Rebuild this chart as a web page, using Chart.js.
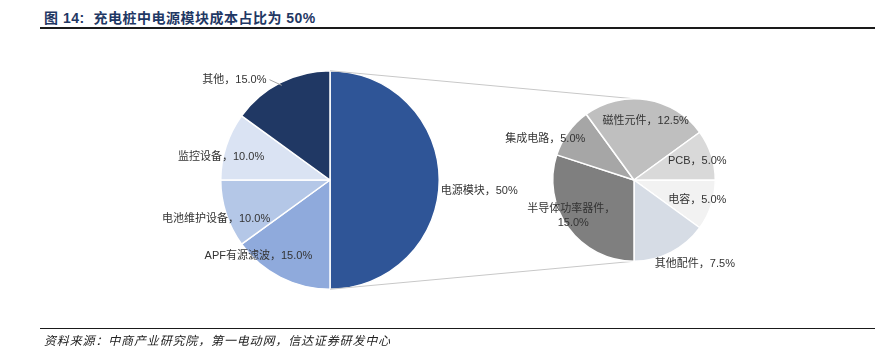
<!DOCTYPE html>
<html>
<head>
<meta charset="utf-8">
<script src="https://cdn.jsdelivr.net/npm/chart.js@4/dist/chart.umd.min.js"></script>
<style>
  body { margin: 0; background: #fff; }
  #wrap { position: relative; width: 875px; height: 353px; overflow: hidden; }
  #wrap canvas { position: absolute; left: 0; top: 0; }
  #title { position: absolute; left: 44px; top: 7px; font: bold 14px "Liberation Sans", "Noto Sans CJK SC", sans-serif; letter-spacing: 0.5px; color: #1f3864; white-space: nowrap; }
  #topline { position: absolute; left: 40px; right: 0; top: 27px; height: 2px; background: #1a1a1a; }
  #botline { position: absolute; left: 40px; right: 0; top: 328px; height: 1px; background: #1a1a1a; }
  #source { position: absolute; left: 44px; top: 331px; font: italic 12px "Noto Sans CJK SC", sans-serif; letter-spacing: 0.85px; color: #222; white-space: nowrap; }
</style>
</head>
<body>
<div id="wrap">
  <div id="title">图 14:&nbsp; 充电桩中电源模块成本占比为 50%</div>
  <div id="topline"></div>
  <canvas id="leftPie" width="875" height="353"></canvas>
  <canvas id="rightPie" width="875" height="353"></canvas>
  <div id="botline"></div>
  <div id="source">资料来源：中商产业研究院，第一电动网，信达证券研发中心</div>
</div>
<script>
// 充电桩成本构成
const mainNames = ['电源模块', 'APF有源滤波', '电池维护设备', '监控设备', '其他']
const mainValues = [50, 15, 10, 10, 15]
const mainValueLabels = ['50%', '15.0%', '10.0%', '10.0%', '15.0%']
const mainColors = ['#2f5597', '#8faadc', '#b4c7e7', '#dae3f3', '#203864']

// 电源模块成本构成
const subNames = ['电容', '其他配件', '半导体功率器件', '集成电路', '磁性元件', 'PCB']
const subValues = [5, 7.5, 15, 5, 12.5, 5]
const subValueLabels = ['5.0%', '7.5%', '15.0%', '5.0%', '12.5%', '5.0%']
const subColors = ['#f2f2f2', '#d6dce5', '#7f7f7f', '#a6a6a6', '#bfbfbf', '#d9d9d9']

// label offsets from the slice's outer edge midpoint
const mainLabelOffsets = [[40, 11], [-22, -21], [-10, 5], [-5, 11], [-46, -3]]
const subLabelOffsets = [[-14, -5], [24, 12], [3, -12], [-23, 7], [-1, 21], [-14, 6]]

const labelFont = '11px "Liberation Sans", "Noto Sans CJK SC", sans-serif'

const edgePoint = (arc, r) => {
  const mid = (arc.startAngle + arc.endAngle) / 2
  return { x: arc.x + Math.cos(mid) * r, y: arc.y + Math.sin(mid) * r }
}

const sliceLabels = (names, valueLabels, offsets, leaderIndex) => ({
  id: 'sliceLabels',
  afterDatasetsDraw(chart) {
    const ctx = chart.ctx
    const arcs = chart.getDatasetMeta(0).data
    ctx.save()
    ctx.font = labelFont
    ctx.fillStyle = '#333'
    ctx.textAlign = 'center'
    ctx.textBaseline = 'middle'
    arcs.forEach((arc, i) => {
      const p = edgePoint(arc, arc.outerRadius)
      const x = p.x + offsets[i][0]
      const y = p.y + offsets[i][1]
      if (names[i] == '半导体功率器件') {
        ctx.fillText(names[i] + '，', x, y - 7)
        ctx.fillText(valueLabels[i], x + 2, y + 7)
      } else {
        const text = names[i] + '，' + valueLabels[i]
        ctx.fillText(text, x, y)
        if (i == leaderIndex) {
          const w = ctx.measureText(text).width
          const q = edgePoint(arc, arc.outerRadius - 3)
          ctx.strokeStyle = '#a6a6a6'
          ctx.lineWidth = 1
          ctx.beginPath()
          ctx.moveTo(x + w / 2 + 3, y)
          ctx.lineTo(q.x, q.y)
          ctx.stroke()
        }
      }
    })
    ctx.restore()
  }
})

const pieOptions = (padding) => ({
  responsive: false,
  animation: false,
  layout: { padding },
  plugins: { legend: { display: false }, tooltip: { enabled: false } }
})

const leftChart = new Chart('leftPie', {
  type: 'pie',
  data: {
    labels: mainNames,
    datasets: [{
      data: mainValues,
      backgroundColor: mainColors,
      borderColor: '#fff',
      borderWidth: 1.5
    }]
  },
  options: pieOptions({ left: 220, right: 435, top: 70, bottom: 63 }),
  plugins: [sliceLabels(mainNames, mainValueLabels, mainLabelOffsets, 4)]
})

// lines joining the 电源模块 slice to the breakdown pie
const connectors = {
  id: 'connectors',
  beforeDatasetsDraw(chart) {
    const a = leftChart.getDatasetMeta(0).data[0]
    const b = chart.getDatasetMeta(0).data[0]
    const ctx = chart.ctx
    ctx.save()
    ctx.strokeStyle = '#c8c8c8'
    ctx.lineWidth = 1
    ctx.beginPath()
    ctx.moveTo(a.x, a.y - a.outerRadius)
    ctx.lineTo(b.x, b.y - b.outerRadius)
    ctx.moveTo(a.x, a.y + a.outerRadius)
    ctx.lineTo(b.x, b.y + b.outerRadius)
    ctx.stroke()
    ctx.restore()
  }
}

new Chart('rightPie', {
  type: 'pie',
  data: {
    labels: subNames,
    datasets: [{
      data: subValues,
      backgroundColor: subColors,
      borderColor: '#fff',
      borderWidth: 1.5,
      rotation: 90
    }]
  },
  options: pieOptions({ left: 552, right: 159, top: 98, bottom: 91 }),
  plugins: [connectors, sliceLabels(subNames, subValueLabels, subLabelOffsets, -1)]
})
</script>
</body>
</html>
